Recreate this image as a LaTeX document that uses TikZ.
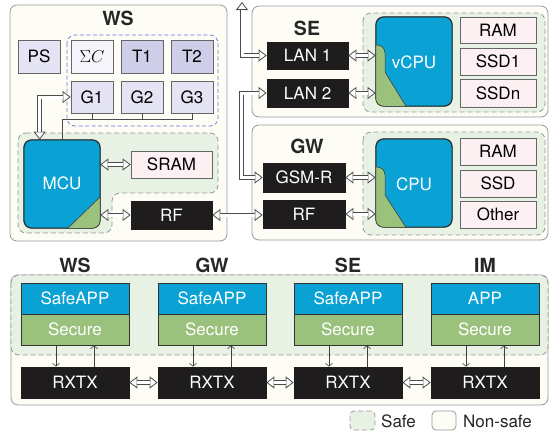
\documentclass[tikz,border=0pt]{standalone}
\usepackage{fontspec}
\setmainfont{TeX Gyre Heros}
\usetikzlibrary{arrows.meta,calc}
\definecolor{ivory}{RGB}{253,253,246}
\definecolor{safefill}{RGB}{232,242,228}
\definecolor{bluec}{RGB}{10,162,212}
\definecolor{greenc}{RGB}{155,194,125}
\definecolor{lav}{RGB}{228,228,244}
\definecolor{lavdark}{RGB}{206,206,232}
\definecolor{lavlight}{RGB}{245,245,251}
\definecolor{pinkc}{RGB}{253,240,242}
\definecolor{blk}{RGB}{30,28,28}
\definecolor{dashblue}{RGB}{110,110,215}
\newcommand{\lbl}{\fontsize{17}{19}\selectfont}
\newcommand{\ttl}{\fontsize{19.5}{21}\selectfont\bfseries}
\begin{document}
\begin{tikzpicture}[x=1pt,y=-1pt,
  outer/.style={draw=black!40, line width=0.8pt, fill=ivory, rounded corners=7pt},
  saferegion/.style={draw=black!40, dashed, dash pattern=on 5pt off 3pt, line width=0.8pt, fill=safefill, rounded corners=8pt},
  box/.style={draw=black!60, line width=0.7pt, inner sep=0pt, font=\lbl, minimum width=42pt, minimum height=33pt},
  dark/.style={box, fill=blk, draw=blk, text=white},
  mem/.style={box, fill=pinkc, minimum width=76pt, minimum height=27pt},
  cpu/.style={box, draw=black!85, fill=bluec, text=white, rounded corners=8pt, minimum width=76pt, minimum height=88pt},
  app/.style={box, draw=black!80, fill=bluec, text=white, minimum width=108pt, minimum height=31pt},
  sec/.style={box, draw=black!80, fill=greenc, text=white, minimum width=108pt, minimum height=31pt},
  title/.style={font=\ttl, text=black!85},
  dbl/.style={draw=black!70, line width=4.6pt,
    {Triangle[length=8pt 0 0,width=12pt 0 0,line width=0.8pt,fill=white]}-{Triangle[length=8pt 0 0,width=12pt 0 0,line width=0.8pt,fill=white]},
    postaction={draw=white, line width=3pt, arrows=-, shorten <=7.6pt, shorten >=7.6pt}},
  small/.style={draw=black!75, line width=0.6pt, -{Straight Barb[length=3pt,width=7pt,line width=0.6pt]}},
  bus/.style={draw=black!70, line width=0.6pt},
  greenpart/.style={fill=greenc, draw=black!80, line width=0.5pt}
]
\useasboundingbox (0,0) rectangle (560,432);

% ---------- outer regions
\draw[outer] (10,5) rectangle (227,241);
\draw[outer] (252,6) rectangle (548,117);
\draw[outer] (252,125) rectangle (548,240);
\draw[outer] (11,275) rectangle (548,405);

% safe regions
\draw[saferegion] (18,133) -- (218,133) -- (218,193) -- (112,193) -- (112,233) -- (18,233) -- cycle;
\draw[saferegion] (363,13) rectangle (545,112);
\draw[saferegion] (363,132) rectangle (545,235);
\draw[saferegion] (11,275) rectangle (548,355);

% dashed blue group
\draw[draw=dashblue, dashed, dash pattern=on 4pt off 2.5pt, line width=0.7pt, rounded corners=8pt] (67,35) rectangle (218,126);

% ---------- WS
\node[title] (wst) at (118,18) {WS};
\node[box, fill=lav] (ps) at (39,56.5) {PS};
\node[box, fill=lavlight] (sc) at (92,56.5) {$\Sigma C$};
\node[box, fill=lavdark] (t1) at (142,56.5) {T1};
\node[box, fill=lavdark] (t2) at (192,56.5) {T2};
\node[box, fill=lav, minimum height=32pt] (g1) at (92,97) {G1};
\node[box, fill=lav, minimum height=32pt] (g2) at (142,97) {G2};
\node[box, fill=lav, minimum height=32pt] (g3) at (192,97) {G3};

\node[cpu] (mcu) at (62,184) {};
\begin{scope}
  \clip[rounded corners=8pt] (mcu.north west) rectangle (mcu.south east);
  \draw[greenpart] (100,197) -- (100,230) -- (66,230) -- cycle;
\end{scope}
\draw[draw=black!85, line width=0.7pt, rounded corners=8pt] (mcu.north west) rectangle (mcu.south east);
\node[font=\lbl, text=white] (mcul) at (62,183) {MCU};

\node[mem, minimum width=81pt] (sram) at (171.5,164.5) {SRAM};
\node[dark, minimum width=81pt, minimum height=28pt] (rfws) at (171.5,215) {RF};

% ---------- SE
\node[title] (set) at (307,28) {SE};
\node[dark, minimum width=81pt, minimum height=27pt] (lan1) at (307.5,55.5) {LAN 1};
\node[dark, minimum width=81pt, minimum height=28pt] (lan2) at (307.5,93) {LAN 2};
\node[cpu, minimum height=89pt] (vcpu) at (414,61.5) {};
\begin{scope}
  \clip[rounded corners=8pt] (vcpu.north west) rectangle (vcpu.south east);
  \draw[greenpart] (374,45) -- (377,45) to[out=0,in=90] (385,53) -- (385,72) -- (407,108) -- (374,108) -- cycle;
\end{scope}
\draw[draw=black!85, line width=0.7pt, rounded corners=8pt] (vcpu.north west) rectangle (vcpu.south east);
\node[font=\lbl, text=white] (vcpul) at (414,62) {vCPU};
\node[mem, minimum height=26pt] (ram1) at (498,30) {RAM};
\node[mem] (ssd1) at (498,61.5) {SSD1};
\node[mem, minimum height=28pt] (ssdn) at (498,93) {SSDn};

% ---------- GW
\node[title] (gwt) at (307,146) {GW};
\node[dark, minimum width=82pt, minimum height=29pt] (gsm) at (304,177.5) {GSM-R};
\node[dark, minimum width=82pt, minimum height=28pt] (rfgw) at (304,214) {RF};
\node[cpu] (cpu) at (414,183) {};
\begin{scope}
  \clip[rounded corners=8pt] (cpu.north west) rectangle (cpu.south east);
  \draw[greenpart] (374,167) -- (377,167) to[out=0,in=90] (385,175) -- (385,195) -- (407,229) -- (374,229) -- cycle;
\end{scope}
\draw[draw=black!85, line width=0.7pt, rounded corners=8pt] (cpu.north west) rectangle (cpu.south east);
\node[font=\lbl, text=white] (cpul) at (414,184) {CPU};
\node[mem] (ram2) at (498,151.5) {RAM};
\node[mem] (ssd) at (498,183.5) {SSD};
\node[mem] (other) at (498,214.5) {Other};

% ---------- connectors top
\coordinate (up) at (242,2);
\draw[bus] (mcu.north) -- ($(mcu.north)+(0,-20)$) -| (g3.south);
\draw[bus] (g1.south) -- ++(0,7);
\draw[bus] (g2.south) -- ++(0,7);
\draw[dbl] ([xshift=16pt]mcu.north west) |- (g1.west);
\draw[dbl] (sram.west -| mcu.east) -- (sram.west);
\draw[dbl] (rfws.west -| mcu.east) -- (rfws.west);
\draw[dbl] (rfws.east) -- (rfws.east -| rfgw.west);
\draw[dbl] (lan1.east) -- (lan1.east -| vcpu.west);
\draw[dbl] (lan2.east) -- (lan2.east -| vcpu.west);
\draw[dbl] (gsm.east) -- (gsm.east -| cpu.west);
\draw[dbl] (rfgw.east) -- (rfgw.east -| cpu.west);
\draw[dbl] (lan1.west) -| (up);
\draw[dbl] (lan2.west) -- ++(-25,0) |- (gsm.west);

% ---------- bottom stack
\foreach \n/\x/\t/\a in {ws/75/WS/SafeAPP, gw/212/GW/SafeAPP, se/348/SE/SafeAPP, im/485/IM/APP}{
  \node[title] (t\n) at (\x,265) {\t};
  \node[app] (app\n) at (\x,298.5) {\a};
  \node[sec] (sec\n) at (\x,329.5) {Secure};
  \node[dark, minimum width=108pt, minimum height=31pt] (rx\n) at (\x,382.5) {RXTX};
  \draw[small] ([xshift=-19pt]sec\n.south) -- ([xshift=-19pt]rx\n.north);
  \draw[small] ([xshift=19pt]rx\n.north) -- ([xshift=19pt]sec\n.south);
}
\draw[dbl] (rxws.east) -- (rxgw.west);
\draw[dbl] (rxgw.east) -- (rxse.west);
\draw[dbl] (rxse.east) -- (rxim.west);

% ---------- legend
\node[saferegion, rounded corners=4pt, minimum width=25pt, minimum height=19pt, inner sep=0pt] (legsafe) at (362.5,420.5) {};
\node[font=\lbl, anchor=west, inner sep=0pt, text=black!85] (legsafet) at (381,421) {Safe};
\node[outer, rounded corners=4pt, minimum width=24pt, minimum height=19pt, inner sep=0pt] (legns) at (444,420.5) {};
\node[font=\lbl, anchor=west, inner sep=0pt, text=black!85] (legnst) at (463,421) {Non-safe};
\end{tikzpicture}
\end{document}
